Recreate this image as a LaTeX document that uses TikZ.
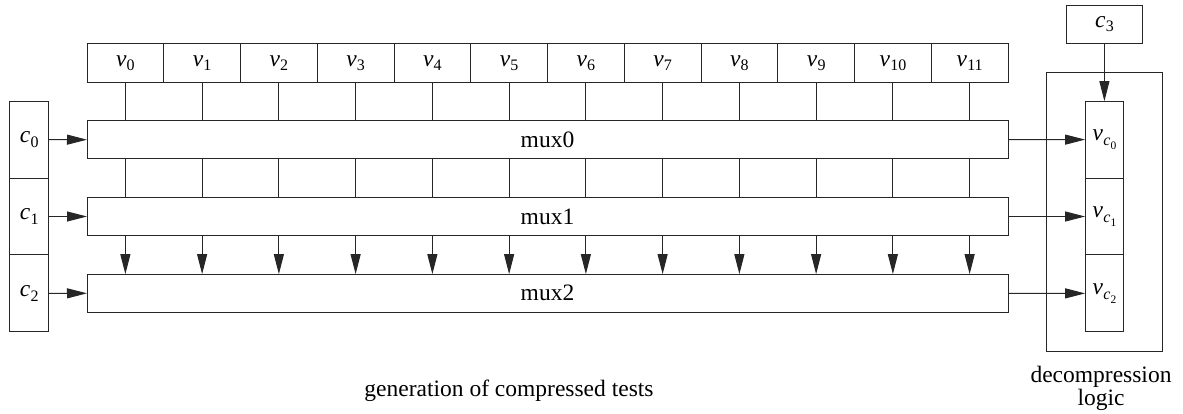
\documentclass[tikz,border=0pt]{standalone}
\usepackage{fontspec}
\setmainfont{Liberation Serif}
\usetikzlibrary{arrows.meta}

% variable labels: italic letter with upright numeric subscript
\newcommand{\subv}[1]{\textit{v}\kern0.3pt\raisebox{-4.5pt}{\fontsize{16}{17}\selectfont #1}}
\newcommand{\subc}[1]{\textit{c}\kern0.3pt\raisebox{-4.5pt}{\fontsize{16}{17}\selectfont #1}}
\newcommand{\subvc}[1]{\textit{v}\kern0.3pt\raisebox{-5pt}{\fontsize{16}{17}\selectfont\textit{c}\kern0.2pt\raisebox{-3.5pt}{\fontsize{11.5}{12}\selectfont #1}}}

\begin{document}
\begin{tikzpicture}[x=1pt,y=-1pt,
  font=\fontsize{23.5}{23}\selectfont,
  box/.style={draw=black!85, line width=1pt, inner sep=0pt, outer sep=0pt, fill=white},
  cell/.style={box, minimum width=76.75pt, minimum height=38.3pt},
  muxbox/.style={box, minimum width=921pt, minimum height=38.3pt},
  sel/.style={box, minimum width=38.5pt, minimum height=76.9pt},
  wire/.style={draw=black!85, line width=1pt},
  arr/.style={wire, -{Triangle[length=20pt,width=10pt]}}]

\useasboundingbox (0,0) rectangle (1183,414);

% decompression logic frame
\node[box, fill=none, minimum width=115.6pt, minimum height=278.3pt] (dec) at (1104.5,211.85) {};

% value registers v0 .. v11
\foreach \i in {0,...,11}
  \node[cell] (v\i) at ({87+76.75*(\i+0.5)},63) {\subv{\i}};

% multiplexer stages
\node[muxbox] (mux0) at (547.5,139.7) {mux0};
\node[muxbox] (mux1) at (547.5,216.5) {mux1};
\node[muxbox] (mux2) at (547.5,293.3) {mux2};

% select inputs
\node[sel] (c0) at (29.2,139.6) {\subc{0}};
\node[sel, anchor=north] (c1) at (c0.south) {\subc{1}};
\node[sel, anchor=north] (c2) at (c1.south) {\subc{2}};

% decompressed values
\node[sel] (vc0) at (1104.4,139.6) {\subvc{0}};
\node[sel, anchor=north] (vc1) at (vc0.south) {\subvc{1}};
\node[sel, anchor=north] (vc2) at (vc1.south) {\subvc{2}};

% external select
\node[cell] (c3) at (1104.4,24.2) {\subc{3}};

% data paths between stages
\foreach \i in {0,...,11} {
  \draw[wire] (v\i.south) -- (v\i.south |- mux0.north);
  \draw[wire] (v\i.south |- mux0.south) -- (v\i.south |- mux1.north);
  \draw[arr] (v\i.south |- mux1.south) -- (v\i.south |- mux2.north);
}

% select and output connections
\foreach \k in {0,1,2} {
  \draw[arr] (c\k.east) -- (mux\k.west);
  \draw[arr] (mux\k.east) -- (vc\k.west);
}
\draw[arr] (c3.south) -- (vc0.north);

% captions
\node[anchor=base, inner sep=0pt] (gen) at (509,396) {generation of compressed tests};
\node[anchor=north, inner sep=0pt, align=center] (declbl) at (1101,366) {decompression\\logic};
\end{tikzpicture}
\end{document}
